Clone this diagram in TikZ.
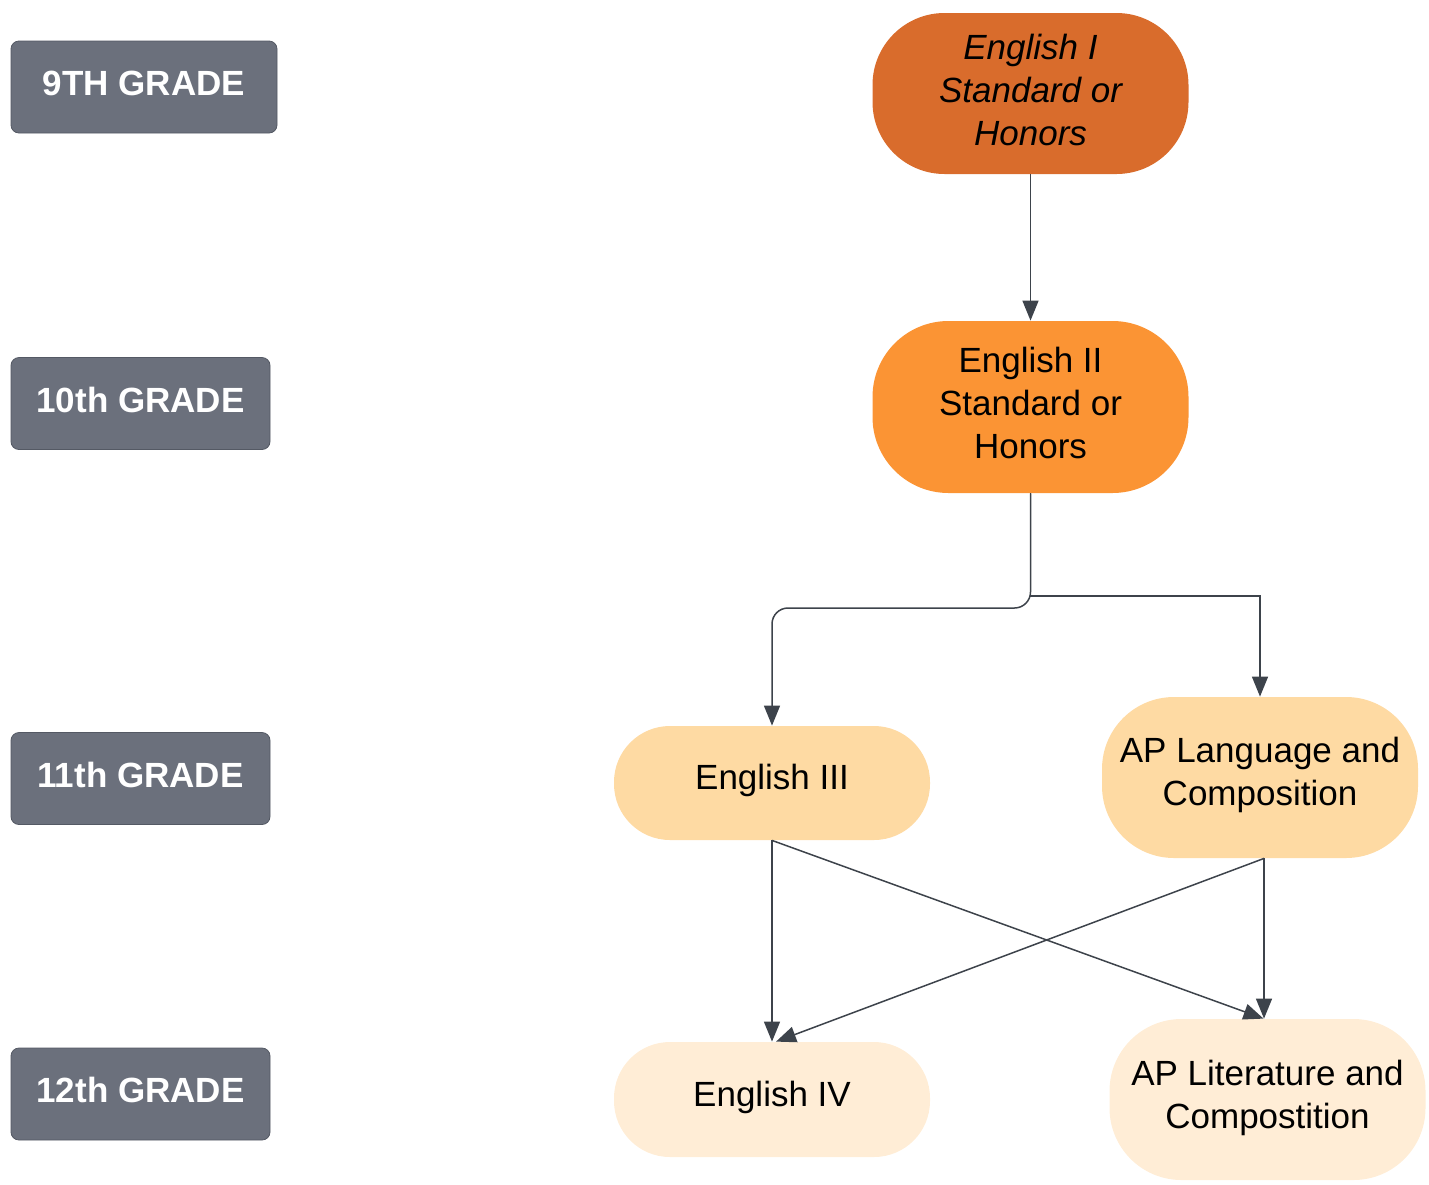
\documentclass[tikz,border=0pt]{standalone}
\usepackage{fontspec}
\setmainfont{Liberation Sans}
\usetikzlibrary{arrows.meta}
\definecolor{gradegray}{HTML}{6B707C}
\definecolor{gradeline}{HTML}{545964}
\definecolor{engone}{HTML}{D96C2C}
\definecolor{engtwo}{HTML}{FB9434}
\definecolor{engthree}{HTML}{FEDAA3}
\definecolor{engfour}{HTML}{FFEDD6}
\definecolor{linegray}{HTML}{3D434B}
\begin{document}
\begin{tikzpicture}[x = 0.5pt, y = -0.5pt,
	grade/.style = {draw=gradeline, fill=gradegray, rounded corners=4pt, text=white,
		font=\fontsize{17.5}{21}\selectfont\bfseries, minimum height=46pt, inner sep=0pt, text depth=4pt},
	course/.style = {fill=#1, rounded corners=28pt, minimum width=158pt, align=center,
		font=\fontsize{17.5}{21.5}\selectfont, inner sep=0pt, text depth=5.7pt},
	conn/.style = {draw=linegray, line width=0.75pt, -{Triangle[length=10pt,width=8pt]}}]
	\useasboundingbox (0,0) rectangle (1429,1184);
	
	% grades
	\node[grade, minimum width=133pt] (g9) at (144,87) {9TH GRADE};
	\node[grade, minimum width=129.5pt] (g10) at (140.5,403.5) {10th GRADE};
	\node[grade, minimum width=129.5pt] (g11) at (140.5,778.5) {11th GRADE};
	\node[grade, minimum width=129.5pt] (g12) at (140.5,1094) {12th GRADE};
	
	% courses
	\node[course=engone, minimum height=80.5pt, rounded corners=36pt, text depth=4pt,
		font=\fontsize{17.5}{21.5}\selectfont\itshape] (e1) at (1030.5,93.5) {English I\\Standard or\\Honors};
	\node[course=engtwo, minimum height=86pt, rounded corners=38pt, text depth=4pt] (e2) at (1030.5,407) {English II\\Standard or\\Honors};
	\node[course=engthree, minimum height=57pt] (e3) at (772,783) {English III};
	\node[course=engthree, minimum height=80.5pt, rounded corners=36pt] (alang) at (1260,777.5) {AP Language and\\Composition};
	\node[course=engfour, minimum height=57.5pt] (e4) at (772,1099.5) {English IV};
	\node[course=engfour, minimum height=80.5pt, rounded corners=36pt] (alit) at (1267.5,1099.5) {AP Literature and\\Compostition};
	
	\coordinate (lft) at (0,608);
	\coordinate (rgt) at (0,596);
	
	\draw[conn] (e1) -- (e2);
	\draw[conn, rounded corners=8pt] (e2.south) -- (e2.south |- lft) -| (e3.north);
	\draw[conn] (e2.south) -- (e2.south |- rgt) -| (alang.north);
	
	\draw[conn] (e3.south) -- (e4.north);
	\draw[conn] (e3.south) -- ([xshift=-2pt]alit.north);
	\draw[conn] ([xshift=2pt]alang.south) -- ([xshift=2pt]e4.north);
	\draw[conn] ([xshift=2pt]alang.south) -- ([xshift=2pt]alang.south |- alit.north);
\end{tikzpicture}
\end{document}
